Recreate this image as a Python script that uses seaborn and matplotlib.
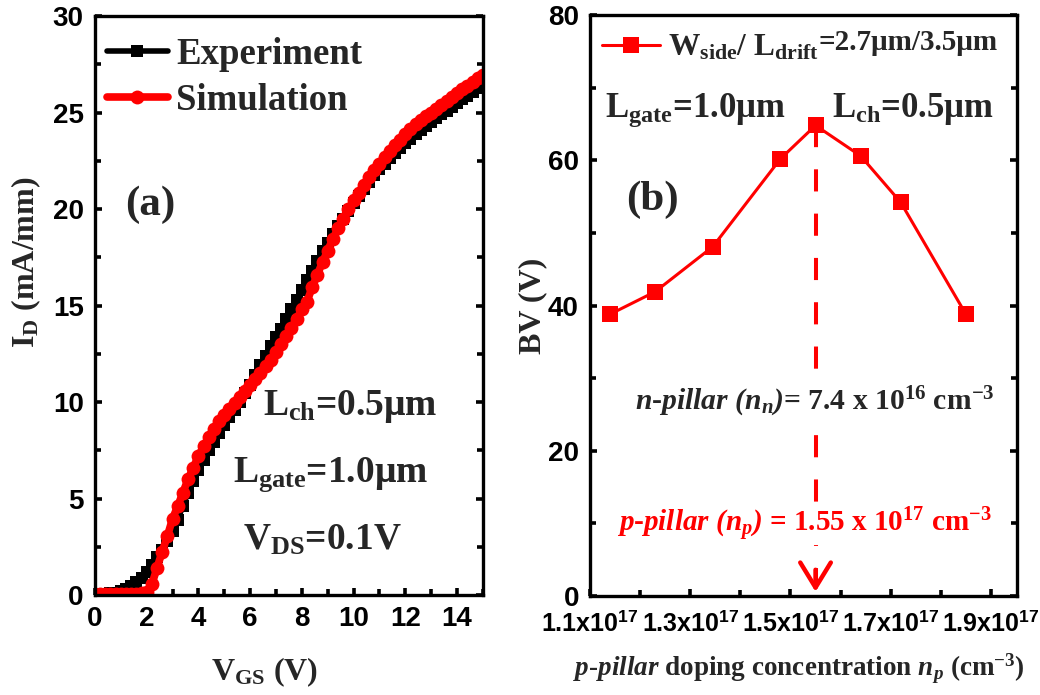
"""
Transfer characteristics (a) and breakdown voltage vs p-pillar doping (b).
"""

import numpy as np
import pandas as pd
import matplotlib
matplotlib.use('Agg')
import matplotlib.pyplot as plt
from matplotlib.ticker import MultipleLocator
import seaborn as sns

# 1. Data
# (a) I_D vs V_GS, V_GS swept 0..15 V in 0.2 V steps
vgs = np.round(np.arange(0, 15.01, 0.2), 1)
id_exp = [0.05, 0.05, 0.05, 0.08, 0.12, 0.2, 0.3, 0.45, 0.65, 0.9,
          1.2, 1.55, 1.95, 2.35, 2.8, 3.3, 3.9, 4.6, 5.3, 5.9,
          6.5, 7.0, 7.5, 7.95, 8.4, 8.8, 9.2, 9.6, 10.0, 10.45,
          10.9, 11.4, 11.9, 12.4, 12.9, 13.35, 13.8, 14.3, 14.8, 15.3,
          15.8, 16.3, 16.8, 17.3, 17.8, 18.25, 18.7, 19.1, 19.5, 19.9,
          20.3, 20.7, 21.05, 21.4, 21.75, 22.05, 22.35, 22.65, 22.9, 23.15,
          23.4, 23.65, 23.9, 24.1, 24.3, 24.5, 24.7, 24.9, 25.1, 25.3,
          25.5, 25.7, 25.85, 26.05, 26.25, 26.45]
id_sim = [0.05, 0.05, 0.05, 0.05, 0.05, 0.05, 0.05, 0.05, 0.06, 0.08,
          0.15, 0.55, 1.4, 2.25, 3.05, 3.95, 4.6, 5.3, 6.0, 6.6,
          7.2, 7.7, 8.2, 8.6, 9.0, 9.35, 9.65, 9.95, 10.25, 10.55,
          10.9, 11.2, 11.5, 11.85, 12.2, 12.6, 13.0, 13.4, 13.85, 14.3,
          14.8, 15.2, 15.95, 16.6, 17.25, 17.85, 18.45, 19.0, 19.5, 20.0,
          20.45, 20.85, 21.25, 21.65, 22.0, 22.35, 22.7, 23.0, 23.3, 23.6,
          23.9, 24.15, 24.4, 24.6, 24.8, 25.0, 25.2, 25.4, 25.6, 25.8,
          26.0, 26.2, 26.4, 26.6, 26.8, 26.95]

# (b) BV vs p-pillar doping (x1e17 cm^-3)
np_conc = [1.14, 1.23, 1.345, 1.48, 1.55, 1.64, 1.72, 1.85]
bv = [38.8, 41.9, 48.1, 60.2, 64.8, 60.6, 54.2, 38.8]
np_opt = 1.55
np_ticks = [1.1, 1.3, 1.5, 1.7, 1.9]
np_ticklabels = [r'1.1x10$^{\mathsf{17}}$', r'1.3x10$^{\mathsf{17}}$', r'1.5x10$^{\mathsf{17}}$',
                 r'1.7x10$^{\mathsf{17}}$', r'1.9x10$^{\mathsf{17}}$']

df_a = pd.DataFrame({'vgs': vgs, 'exp': id_exp, 'sim': id_sim})
df_b = pd.DataFrame({'np': np_conc, 'bv': bv})

# 2. Style
sns.set_theme(style='ticks')
plt.rcParams.update({
    'font.family': ['Liberation Serif', 'DejaVu Serif'],
    'font.weight': 'bold',
    'mathtext.fontset': 'custom',
    'mathtext.rm': 'Liberation Serif:bold',
    'mathtext.bf': 'Liberation Serif:bold',
    'mathtext.it': 'Liberation Serif:italic:bold',
    'mathtext.bfit': 'Liberation Serif:italic:bold',
    'mathtext.sf': 'Liberation Sans:bold',
    'axes.linewidth': 2.4,
    'axes.edgecolor': 'black',
})

fig = plt.figure(figsize=(10.4, 6.95), dpi=100)
ax1 = fig.add_axes([0.0913, 0.1439, 0.373, 0.833])
ax2 = fig.add_axes([0.5673, 0.1424, 0.4106, 0.836])

tick_kw = dict(direction='in', left=True, right=True, bottom=True, top=False,
               width=2.6, labelfontfamily='Liberation Sans', colors='black')

# 3. Panel (a)
sns.lineplot(data=df_a, x='vgs', y='exp', ax=ax1, color='black', lw=4,
             marker='s', markersize=8, markeredgewidth=0, label='Experiment')
sns.lineplot(data=df_a, x='vgs', y='sim', ax=ax1, color='red', lw=5.5,
             marker='o', markersize=10, markeredgewidth=0, label='Simulation')

ax1.set_xlim(0, 15)
ax1.set_ylim(0, 30)
ax1.xaxis.set_major_locator(MultipleLocator(2))
ax1.xaxis.set_minor_locator(MultipleLocator(1))
ax1.yaxis.set_major_locator(MultipleLocator(5))
ax1.yaxis.set_minor_locator(MultipleLocator(2.5))
ax1.tick_params(which='major', length=5, pad=8, labelsize=20, **tick_kw)
ax1.tick_params(which='minor', length=4, **tick_kw)

ax1.set_xlabel(r'V$_{\mathrm{GS}}$ (V)', fontsize=23, fontweight='bold')
ax1.set_ylabel(r'I$_{\mathrm{D}}$ (mA/mm)', fontsize=23, fontweight='bold')
ax1.xaxis.set_label_coords(0.438, -0.105)
ax1.yaxis.set_label_coords(-0.135, 0.575)

ax1.legend(loc='upper left', bbox_to_anchor=(0.0, 0.985), frameon=False,
           prop={'family': 'Liberation Serif', 'weight': 'bold', 'size': 26.5},
           handlelength=1.65, handletextpad=0.22, labelspacing=0.3,
           borderaxespad=0.0, borderpad=0.33)

ax1.text(2.13, 20.2, '(a)', fontsize=31, fontweight='bold', ha='center', va='center')
ax1.text(6.5, 9.33, r'L$_{\mathrm{ch}}$=0.5μm', fontsize=27, fontweight='bold',
         ha='left', va='baseline')
ax1.text(5.33, 5.87, r'L$_{\mathrm{gate}}$=1.0μm', fontsize=27, fontweight='bold',
         ha='left', va='baseline')
ax1.text(5.72, 2.33, r'V$_{\mathrm{DS}}$=0.1V', fontsize=27, fontweight='bold',
         ha='left', va='baseline')

# 4. Panel (b)
sns.lineplot(data=df_b, x='np', y='bv', ax=ax2, color='red', lw=2.2,
             marker='s', markersize=11, markeredgewidth=0,
             label=r'W$_{\mathrm{side}}$/ L$_{\mathrm{drift}}$')

ax2.plot([np_opt, np_opt], [bv[np_conc.index(np_opt)], 1.5], color='red', lw=2.9,
         linestyle=(0, (5.5, 5.5)), zorder=1)
ax2.annotate('', xy=(np_opt, 0.2), xytext=(np_opt, 4),
             arrowprops=dict(arrowstyle='->,head_length=0.9,head_width=0.55',
                             color='red', lw=3.2, mutation_scale=20))

ax2.set_xlim(1.1, 1.952)
ax2.set_ylim(0, 80)
ax2.set_xticks(np_ticks)
ax2.set_xticklabels(np_ticklabels)
ax2.xaxis.set_minor_locator(MultipleLocator(0.1))
ax2.yaxis.set_major_locator(MultipleLocator(20))
ax2.yaxis.set_minor_locator(MultipleLocator(10))
ax2.tick_params(which='major', length=5, pad=8, labelsize=20, **tick_kw)
ax2.tick_params(which='minor', length=4, **tick_kw)
ax2.tick_params(axis='x', which='major', labelsize=18, pad=11)

ax2.set_xlabel(r'$\mathbfit{p}$-$\mathbfit{pillar}$ doping concentration $\mathbfit{n_p}$ (cm$^{-3}$)',
               fontsize=19.5, fontweight='bold')
ax2.set_ylabel('BV (V)', fontsize=23, fontweight='bold')
ax2.xaxis.set_label_coords(0.49, -0.096)
ax2.yaxis.set_label_coords(-0.10, 0.5)

leg2 = ax2.legend(loc='upper left', bbox_to_anchor=(0.0, 0.99), frameon=False,
                  prop={'family': 'Liberation Serif', 'weight': 'bold', 'size': 22.5},
                  handlelength=1.85, handletextpad=0.25, borderaxespad=0.0, borderpad=0.4)

ax2.text(1.13, 66.0, r'L$_{\mathrm{gate}}$=1.0μm', fontsize=25, fontweight='bold',
         ha='left', va='baseline')
ax2.text(1.583, 66.0, r'L$_{\mathrm{ch}}$=0.5μm', fontsize=25, fontweight='bold',
         ha='left', va='baseline')
ax2.text(1.224, 54.5, '(b)', fontsize=31, fontweight='bold', ha='center', va='center')
ax2.text(1.549, 25.6,
         r'$\mathbfit{n}$-$\mathbfit{pillar}$ $\mathbfit{(n_n)}$= 7.4 x 10$^{16}$ cm$^{-3}$',
         fontsize=21.3, fontweight='bold', ha='center', va='baseline', zorder=5,
         bbox=dict(facecolor='white', edgecolor='none', pad=1))
ax2.text(1.527, 8.8,
         r'$\mathbfit{p}$-$\mathbfit{pillar}$ $\mathbfit{(n_p)}$ = 1.55 x 10$^{17}$ cm$^{-3}$',
         fontsize=21, fontweight='bold', color='red', ha='center', va='baseline', zorder=5,
         bbox=dict(facecolor='white', edgecolor='none', pad=1))

# legend label continues in a smaller font right after the subscripted part
fig.canvas.draw()
bb = leg2.get_texts()[0].get_window_extent()
x0, y0 = ax2.transAxes.inverted().transform((bb.x1, bb.y0 + 0.42 * bb.height))
ax2.text(x0, y0, '=2.7μm/3.5μm', transform=ax2.transAxes,
         fontsize=21, fontweight='bold', ha='left', va='baseline')

fig.savefig('out.png', dpi=100)
